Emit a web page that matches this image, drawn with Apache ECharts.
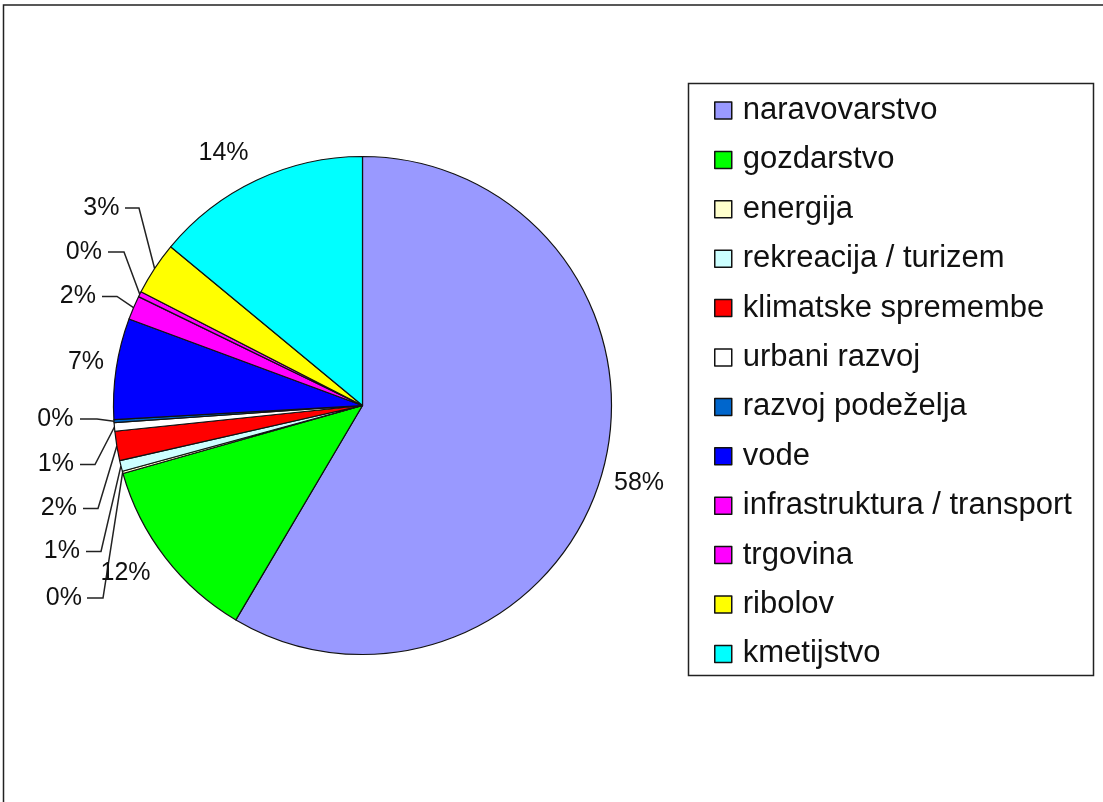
<!DOCTYPE html>
<html>
<head>
<meta charset="utf-8">
<script src="https://cdn.jsdelivr.net/npm/echarts@6/dist/echarts.min.js"></script>
<style>
  html, body { margin: 0; padding: 0; background: #fff; }
  #chart { width: 1103px; height: 802px; }
</style>
</head>
<body>
<div id="chart"></div>
<script>
// Sectors, in drawing order (clockwise from 12 o'clock)
const categories = [
  'naravovarstvo', 'gozdarstvo', 'energija', 'rekreacija / turizem',
  'klimatske spremembe', 'urbani razvoj', 'razvoj podeželja', 'vode',
  'infrastruktura / transport', 'trgovina', 'ribolov', 'kmetijstvo'
];
// Share of each sector (%)
const shares = [58.49, 12.11, 0.15, 0.7, 1.9, 0.55, 0.2, 6.55, 1.55, 0.35, 3.45, 14.0];

// Fill colours per sector
const colors = [
  '#9999FF', '#00FF00', '#FFFFCC', '#CCFFFF', '#FF0000', '#FFFFFF',
  '#0066CC', '#0000FF', '#FF00FF', '#FF00FF', '#FFFF00', '#00FFFF'
];

// Where each percentage label sits; labels with `start` get a leader line
// running horizontally from the text to `elbow`, then to the slice edge.
const LABEL_SPOTS = [
  { x: 639,   y: 483,   align: 'center' },
  { x: 125.5, y: 573,   align: 'center' },
  { x: 82,    y: 598,   align: 'right', start: 87,  elbow: 103 },
  { x: 80,    y: 551.5, align: 'right', start: 86,  elbow: 101 },
  { x: 77,    y: 508.5, align: 'right', start: 83,  elbow: 98 },
  { x: 74,    y: 464.5, align: 'right', start: 80,  elbow: 95 },
  { x: 73.5,  y: 419,   align: 'right', start: 80,  elbow: 97 },
  { x: 86,    y: 362,   align: 'center' },
  { x: 96,    y: 296.5, align: 'right', start: 102, elbow: 117 },
  { x: 102,   y: 252,   align: 'right', start: 108, elbow: 124 },
  { x: 119.5, y: 208,   align: 'right', start: 125, elbow: 139 },
  { x: 223.5, y: 153,   align: 'center' }
];

const FONT = "'Liberation Sans', Arial, sans-serif";

const pieData = categories.map((name, i) => ({
  name: name,
  value: shares[i],
  itemStyle: { color: colors[i] },
  labelLine: { show: LABEL_SPOTS[i].start != null }
}));

const chart = echarts.init(document.getElementById('chart'), null, { renderer: 'canvas' });

chart.setOption({
  animation: false,
  backgroundColor: '#ffffff',
  graphic: [
    // outer chart frame
    {
      type: 'rect', silent: true, z: -1,
      shape: { x: 3.5, y: 5, width: 1200, height: 900 },
      style: { fill: 'none', stroke: '#222', lineWidth: 1.5 }
    },
    // legend frame
    {
      type: 'rect', silent: true,
      shape: { x: 688.5, y: 83.5, width: 405, height: 592 },
      style: { fill: '#fff', stroke: '#222', lineWidth: 1.5 },
      z: 0
    }
  ],
  legend: {
    orient: 'vertical',
    left: 714,
    top: 95,
    padding: 0,
    itemWidth: 17,
    itemHeight: 17,
    itemGap: 18.4,
    icon: 'rect',
    selectedMode: false,
    data: categories,
    itemStyle: { borderColor: '#111', borderWidth: 1.5 },
    textStyle: {
      fontFamily: FONT,
      fontSize: 31,
      lineHeight: 31,
      color: '#111',
      padding: [0, 0, 0, 6]
    }
  },
  series: [{
    type: 'pie',
    center: [362.5, 405.5],
    radius: 249,
    startAngle: 90,
    clockwise: true,
    avoidLabelOverlap: false,
    data: pieData,
    itemStyle: { borderColor: '#111', borderWidth: 1.2 },
    emphasis: { disabled: true },
    label: {
      show: true,
      position: 'outside',
      fontFamily: FONT,
      fontSize: 25,
      color: '#111',
      formatter: p => Math.round(p.percent) + '%'
    },
    labelLine: {
      show: true,
      length: 10,
      length2: 10,
      lineStyle: { color: '#222', width: 1.5 }
    },
    labelLayout: function (p) {
      const c = LABEL_SPOTS[p.dataIndex];
      const out = { x: c.x, y: c.y, align: c.align, verticalAlign: 'middle' };
      if (c.start != null && p.labelLinePoints) {
        const a = p.labelLinePoints[0];
        out.labelLinePoints = [[a[0], a[1]], [c.elbow, c.y], [c.start, c.y]];
      }
      return out;
    }
  }]
});
</script>
</body>
</html>
